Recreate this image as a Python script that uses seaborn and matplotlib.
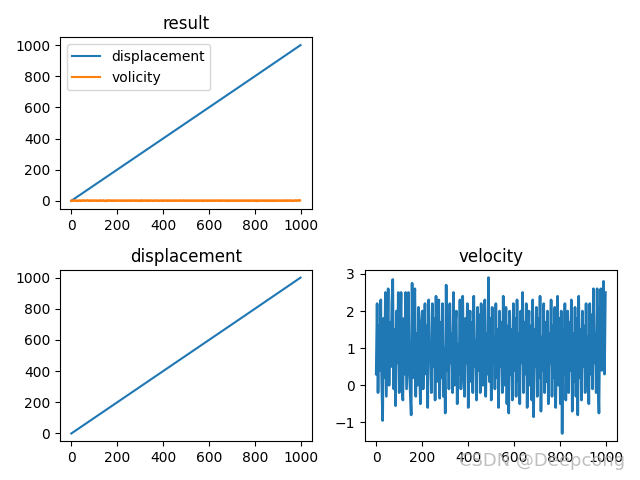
import matplotlib.pyplot as plt
import seaborn as sns

# displacement grows linearly with time
disp_t = [0, 250, 500, 750, 999]
disp = [0, 250, 500, 750, 1000]

vel_t = list(range(0, 1000, 4))
vel = [
    0.3, 2.2, -0.2, 1.6, 0.4, 2.3, 0.1, -0.95, 1.8, 0.2,
    2.5, -0.3, 1.1, 2.6, 0.0, 1.7, 0.5, 2.2, 2.85, -0.1,
    1.5, -0.55, 2.0, 0.6, 2.5, -0.2, 1.3, 2.5, 0.1, -0.4,
    1.8, 0.3, 2.5, -0.1, 1.2, 2.5, 0.4, -0.2, -0.8, 2.75,
    0.2, 1.9, 2.6, -0.3, 1.4, 0.0, 2.1, 0.5, -0.5, 1.7,
    2.0, -0.1, 1.2, 2.2, 0.3, 1.6, -0.6, 2.3, 0.7, 1.0,
    -0.2, 2.2, 0.5, 1.8, -0.4, 2.4, 0.1, 1.3, 2.3, -0.35,
    1.7, 0.2, 2.2, -0.3, 1.0, -0.75, 2.7, 0.4, 1.9, -0.1,
    2.2, 0.6, 1.4, -0.2, 2.5, 0.0, 1.6, 2.0, -0.5, 1.1,
    0.3, 2.3, -0.1, 1.5, 2.4, 0.2, -0.3, 1.8, 0.6, 2.2,
    -0.6, 1.3, 2.0, 0.1, 1.7, -0.2, 2.4, 0.5, 1.2, -0.4,
    2.1, 0.4, 1.9, -0.2, 2.2, 0.8, 0.0, 1.6, 2.3, -0.3,
    1.4, 0.3, 2.9, 0.1, 1.8, -0.4, 2.1, 0.6, 1.3, -0.1,
    2.2, 0.2, 1.5, -0.6, 2.0, 0.5, 1.7, -0.2, 2.4, 0.0,
    1.2, 2.1, -0.5, 1.6, -0.75, 2.0, 0.3, 1.5, -0.4, 2.2,
    0.4, 1.8, -0.3, 2.3, 0.1, 1.4, -0.5, 2.0, 0.6, 2.5,
    -0.2, 1.7, 0.3, 2.2, -0.6, 1.2, 2.0, 0.0, 1.6, -0.4,
    2.3, -0.85, 1.5, 0.5, 2.1, -0.3, 1.8, 0.2, 2.4, -0.7,
    1.3, 0.4, 2.2, -0.2, 1.7, 0.1, 2.0, -0.5, 1.4, 0.6,
    2.3, -0.3, 1.6, 0.2, 2.1, -0.6, 1.0, 2.4, 0.0, 1.8,
    -0.5, 2.0, -1.3, 1.5, 0.3, 2.2, -0.4, 1.2, 2.0, -0.2,
    1.7, 0.4, 2.3, -0.7, 1.4, 0.1, 2.1, -0.3, 1.8, -0.8,
    2.4, 0.2, 1.5, -0.4, 2.0, 0.5, 1.6, -0.2, 2.2, 0.0,
    1.3, -0.5, 2.2, 0.3, 1.9, -0.1, 2.6, 0.6, 1.4, -0.2,
    2.6, 0.2, -0.75, 1.8, 2.6, 0.4, 1.5, 2.8, 0.3, 2.5,
]

fig = plt.figure(figsize=(6.4, 4.8), dpi=100)

# combined result
ax1 = fig.add_subplot(2, 2, 1)
sns.lineplot(x=disp_t, y=disp, ax=ax1, color="C0", label="displacement", sort=False)
sns.lineplot(x=vel_t, y=vel, ax=ax1, color="C1", label="volicity", sort=False, lw=1.8)
ax1.set_title("result")
ax1.legend(loc="upper left")
for line in ax1.get_legend().get_lines():
    line.set_linewidth(1.5)

# displacement alone
ax2 = fig.add_subplot(2, 2, 3)
sns.lineplot(x=disp_t, y=disp, ax=ax2, color="C0", sort=False)
ax2.set_title("displacement")

# velocity alone
ax3 = fig.add_subplot(2, 2, 4)
sns.lineplot(x=vel_t, y=vel, ax=ax3, color="C0", sort=False, lw=1.9)
ax3.set_title("velocity")

plt.tight_layout()
fig.text(0.977, 0.04, "CSDN @Deepcong", ha="right", va="center",
         fontsize=13, color="#b0b0b0", alpha=0.8)
plt.savefig("out.png")
plt.close()
